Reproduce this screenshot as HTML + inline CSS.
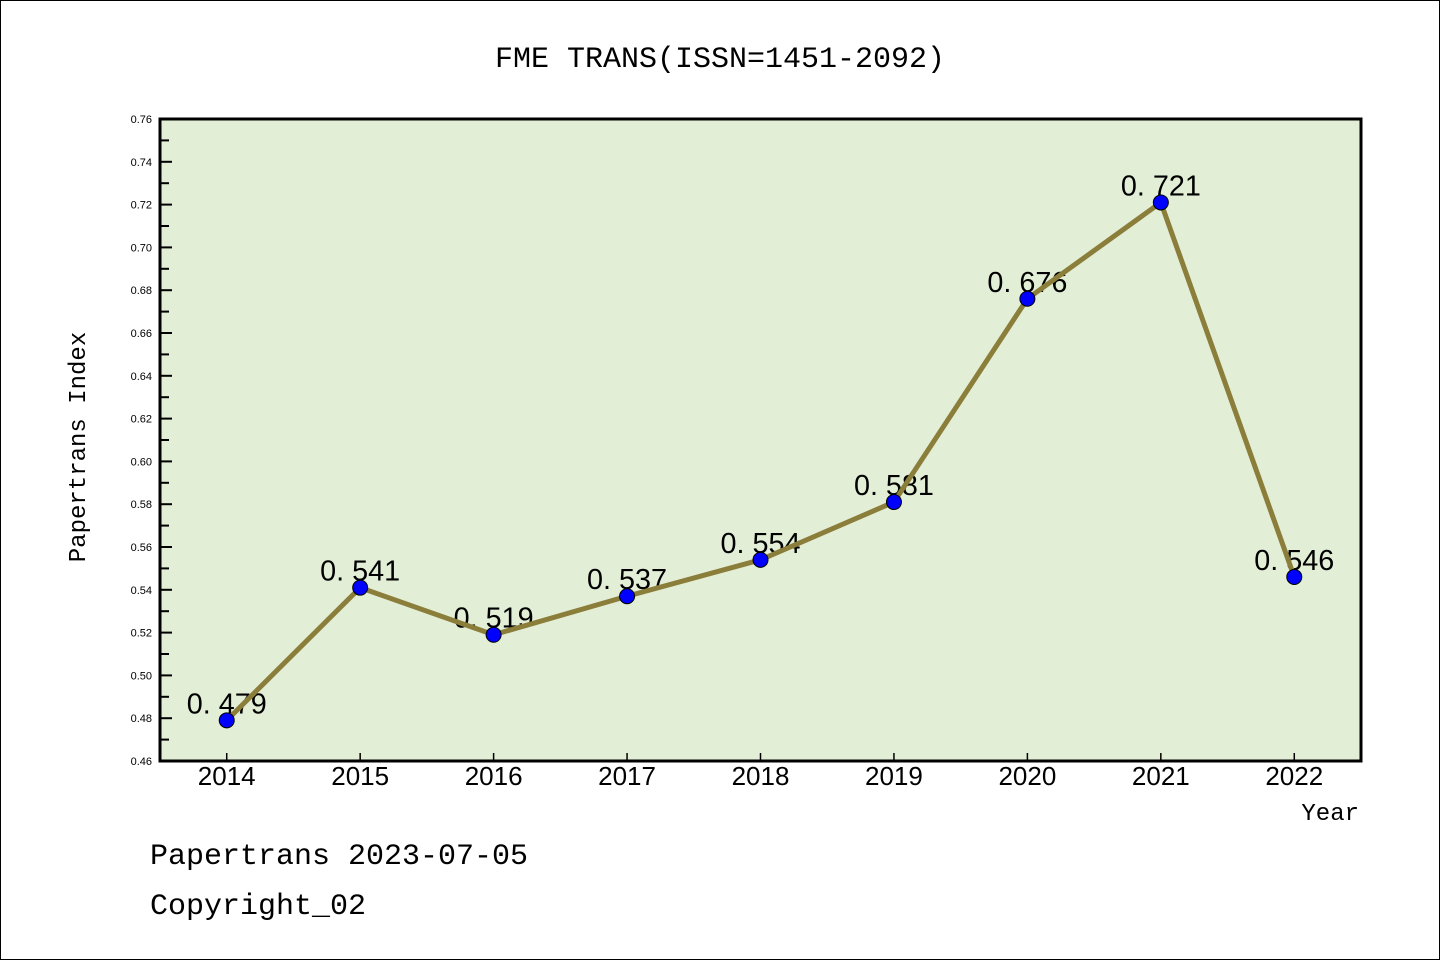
<!DOCTYPE html>
<html><head><meta charset="utf-8"><style>
html,body{margin:0;padding:0;background:#fff;}
svg{display:block;}
text{font-family:"Liberation Mono","WenQuanYi Zen Hei",monospace;fill:#000;}
.sans{font-family:"Liberation Sans","DejaVu Sans",sans-serif;}
</style></head><body>
<svg id="chart" width="1440" height="960" viewBox="0 0 1440 960">
<rect x="0.5" y="0.5" width="1439" height="959" fill="#fff" stroke="#000" stroke-width="1"/>
<text x="720" y="67" font-size="30" text-anchor="middle">FME TRANS(ISSN=1451-2092)</text>
<rect x="160" y="119" width="1201" height="642" fill="#e2efd6"/>
<g id="ticks"></g>
<g id="series"></g>
<rect x="160" y="119" width="1201" height="642" fill="none" stroke="#000" stroke-width="3"/>
<text transform="translate(85,447) rotate(-90)" font-size="24" text-anchor="middle">Papertrans Index</text>
<text x="1359" y="820" font-size="24" text-anchor="end">Year</text>
<text x="150" y="864" font-size="30">Papertrans 2023-07-05</text>
<text x="150" y="914" font-size="30">Copyright_02</text>
</svg>
<script>
const categories = ["2014","2015","2016","2017","2018","2019","2020","2021","2022"];
const values = [0.479,0.541,0.519,0.537,0.554,0.581,0.676,0.721,0.546];
const valueLabels = ["0. 479","0. 541","0. 519","0. 537","0. 554","0. 581","0. 676","0. 721","0. 546"];
const yTicks = [0.46,0.48,0.50,0.52,0.54,0.56,0.58,0.60,0.62,0.64,0.66,0.68,0.70,0.72,0.74,0.76];

const X0=160,X1=1361,Y0=761,Y1=119,YMIN=0.46,YMAX=0.76;
const NS="http://www.w3.org/2000/svg";
function xs(i){return X0+(i+0.5)*(X1-X0)/categories.length;}
function ys(v){return Y0-(v-YMIN)/(YMAX-YMIN)*(Y0-Y1);}
function mk(tag,attrs,parent){const e=document.createElementNS(NS,tag);for(const k in attrs)e.setAttribute(k,attrs[k]);parent.appendChild(e);return e;}
const tg=document.getElementById('ticks'), sg=document.getElementById('series');
yTicks.forEach((t,i)=>{
  const y=ys(t);
  const l=mk('line',{x1:X0,x2:X0+12,y1:y,y2:y,stroke:'#000','stroke-width':2},tg);
  
  
  const tx=mk('text',{x:152,y:y+4,'font-size':11,'text-anchor':'end','class':'sans'},tg);
  tx.textContent=t.toFixed(2);
  
  
  if(i<yTicks.length-1){
    const ym=ys(t+0.01);
    const m=mk('line',{x1:X0,x2:X0+9,y1:ym,y2:ym,stroke:'#000','stroke-width':2},tg);
    
    
  }
});
categories.forEach((c,i)=>{
  const x=xs(i);
  const l=mk('line',{x1:x,x2:x,y1:Y0,y2:Y0-8,stroke:'#000','stroke-width':1.5},tg);
  
  
  const tx=mk('text',{x:x,y:785,'font-size':26,'text-anchor':'middle','class':'sans'},tg);
  tx.textContent=c;
  
  
});
values.forEach((v,i)=>{
  const tx=mk('text',{x:xs(i)-40,y:ys(v)-7,'font-size':29,'class':'sans',textLength:80,lengthAdjust:'spacingAndGlyphs'},sg);
  tx.textContent=valueLabels[i];
  
  
});
const pts=values.map((v,i)=>xs(i)+','+ys(v)).join(' ');
const line=mk('polyline',{points:pts,fill:'none',stroke:'#8b7d3a','stroke-width':5,'stroke-linejoin':'round'},sg);


values.forEach((v,i)=>{
  const c=mk('circle',{cx:xs(i),cy:ys(v),r:7.5,fill:'#0000ff',stroke:'#000','stroke-width':1},sg);
  
  
});
</script>
</body></html>
